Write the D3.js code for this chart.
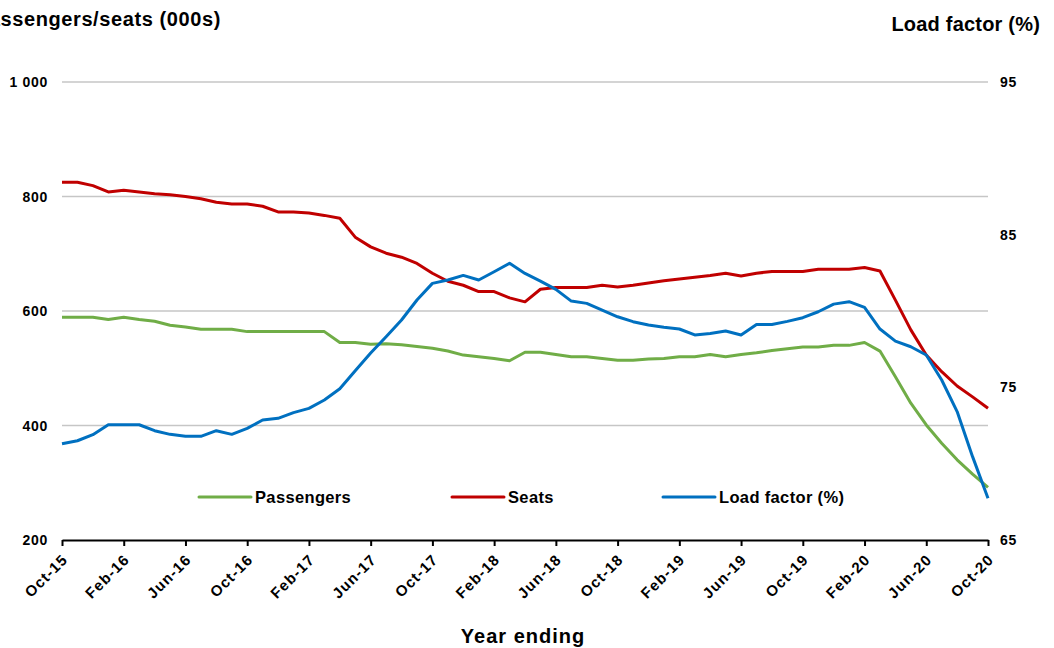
<!DOCTYPE html>
<html><head><meta charset="utf-8">
<script src="https://cdn.jsdelivr.net/npm/d3@7"></script>
<style>body{margin:0;background:#fff}svg{display:block;font-family:"Liberation Sans",Arial,sans-serif;font-weight:bold}</style>
</head><body><svg id="c" width="1054" height="648"></svg>
<script>
const months = ["Oct-15","Nov-15","Dec-15","Jan-16","Feb-16","Mar-16","Apr-16","May-16","Jun-16","Jul-16","Aug-16","Sep-16",
"Oct-16","Nov-16","Dec-16","Jan-17","Feb-17","Mar-17","Apr-17","May-17","Jun-17","Jul-17","Aug-17","Sep-17",
"Oct-17","Nov-17","Dec-17","Jan-18","Feb-18","Mar-18","Apr-18","May-18","Jun-18","Jul-18","Aug-18","Sep-18",
"Oct-18","Nov-18","Dec-18","Jan-19","Feb-19","Mar-19","Apr-19","May-19","Jun-19","Jul-19","Aug-19","Sep-19",
"Oct-19","Nov-19","Dec-19","Jan-20","Feb-20","Mar-20","Apr-20","May-20","Jun-20","Jul-20","Aug-20","Sep-20","Oct-20"];
const passengers = [589,589,589,585,589,585,582,575,572,568,568,568,
564,564,564,564,564,564,545,545,542,543,541,538,
535,530,523,520,517,513,528,528,524,520,520,517,
514,514,516,517,520,520,524,520,524,527,531,534,
537,537,540,540,545,530,485,439,401,369,340,315,292];
const seats = [825,825,819,808,811,808,805,803,800,796,790,787,
787,783,773,773,771,767,762,729,712,701,694,683,
666,652,645,634,634,623,616,638,641,641,641,645,
642,645,649,653,656,659,662,666,661,666,669,669,
669,673,673,673,676,670,619,567,523,494,469,450,430];
const loadFactor = [71.3,71.5,71.9,72.55,72.55,72.55,72.16,71.92,71.79,71.79,72.16,71.92,
72.31,72.86,72.97,73.34,73.62,74.17,74.91,76.09,77.25,78.31,79.41,80.72,
81.81,82.03,82.33,82.03,82.57,83.12,82.46,81.96,81.42,80.65,80.5,80.06,
79.62,79.3,79.08,78.93,78.82,78.43,78.53,78.69,78.43,79.12,79.12,79.32,
79.56,79.95,80.45,80.61,80.24,78.82,78.03,77.66,77.12,75.48,73.41,70.46,67.73];
const xTickLabels = ["Oct-15","Feb-16","Jun-16","Oct-16","Feb-17","Jun-17","Oct-17","Feb-18","Jun-18","Oct-18","Feb-19","Jun-19","Oct-19","Feb-20","Jun-20","Oct-20"];
const leftTicks = [200,400,600,800,1000];
const rightTicks = [65,75,85,95];
const seriesNames = ["Passengers","Seats","Load factor (%)"];
const seriesColors = ["#70ad47","#c00000","#0070c0"];

const svg = d3.select("#c");
const x = d3.scalePoint().domain(months).range([62, 988]);
const yL = d3.scaleLinear().domain([200,1000]).range([540,82]);
const yR = d3.scaleLinear().domain([65,95]).range([540,82]);
const fmt = d3.formatLocale({decimal:".",thousands:" ",grouping:[3],currency:["",""]}).format(",");

// gridlines
svg.append("g").selectAll("line").data(leftTicks.filter(d=>d>200)).join("line")
  .attr("x1",62).attr("x2",988).attr("y1",d=>yL(d)).attr("y2",d=>yL(d))
  .attr("stroke","#c6c6c6").attr("stroke-width",1.6);

// left labels
svg.append("g").selectAll("text").data(leftTicks).join("text")
  .attr("x",48).attr("y",d=>yL(d)+5).attr("text-anchor","end")
  .attr("font-size",14).attr("letter-spacing",0.7).attr("fill","#000").text(d=>fmt(d));
// right labels
svg.append("g").selectAll("text").data(rightTicks).join("text")
  .attr("x",1000).attr("y",d=>yR(d)+5).attr("text-anchor","start")
  .attr("font-size",14).attr("letter-spacing",0.7).attr("fill","#000").text(d=>d);

// x axis
const xAxis = d3.axisBottom(x).tickValues(xTickLabels).tickSize(6).tickSizeOuter(0).tickFormat("");
const gx = svg.append("g").attr("transform","translate(0,540)").call(xAxis);
gx.select(".domain").attr("stroke","#000").attr("stroke-width",2);
gx.selectAll(".tick line").attr("stroke","#000").attr("stroke-width",2);
gx.selectAll(".tick text").remove();
svg.append("g").selectAll("text").data(xTickLabels).join("text")
  .attr("transform",d=>`translate(${x(d)-1},${553}) rotate(-45)`)
  .attr("text-anchor","end").attr("dy","0.72em")
  .attr("font-size",15).attr("letter-spacing",1.1).attr("fill","#000").text(d=>d);

// lines
const lineL = d3.line().x((d,i)=>x(months[i])).y(d=>yL(d));
const lineR = d3.line().x((d,i)=>x(months[i])).y(d=>yR(d));
svg.append("path").datum(passengers).attr("d",lineL).attr("fill","none")
  .attr("stroke",seriesColors[0]).attr("stroke-width",3).attr("stroke-linejoin","round");
svg.append("path").datum(seats).attr("d",lineL).attr("fill","none")
  .attr("stroke",seriesColors[1]).attr("stroke-width",3).attr("stroke-linejoin","round");
svg.append("path").datum(loadFactor).attr("d",lineR).attr("fill","none")
  .attr("stroke",seriesColors[2]).attr("stroke-width",3).attr("stroke-linejoin","round");

// legend
const legX = [199, 452, 663];
const lg = svg.append("g").selectAll("g").data(seriesNames).join("g")
  .attr("transform",(d,i)=>`translate(${legX[i]},497)`);
lg.append("line").attr("x1",0).attr("x2",52).attr("y1",0).attr("y2",0)
  .attr("stroke",(d,i)=>seriesColors[i]).attr("stroke-width",3).attr("stroke-linecap","round");
lg.append("text").attr("x",56).attr("y",6).attr("font-size",16.5).attr("letter-spacing",0.35).attr("fill","#000").text(d=>d);

// titles
svg.append("text").attr("x",221).attr("y",26).attr("text-anchor","end")
  .attr("font-size",20).attr("letter-spacing",0.6).attr("fill","#000").text("Passengers/seats (000s)");
svg.append("text").attr("x",1040).attr("y",31).attr("text-anchor","end")
  .attr("font-size",20).attr("letter-spacing",0.2).attr("fill","#000").text("Load factor (%)");
svg.append("text").attr("x",523).attr("y",643).attr("text-anchor","middle")
  .attr("font-size",20).attr("letter-spacing",1).attr("fill","#000").text("Year ending");
</script></body></html>
